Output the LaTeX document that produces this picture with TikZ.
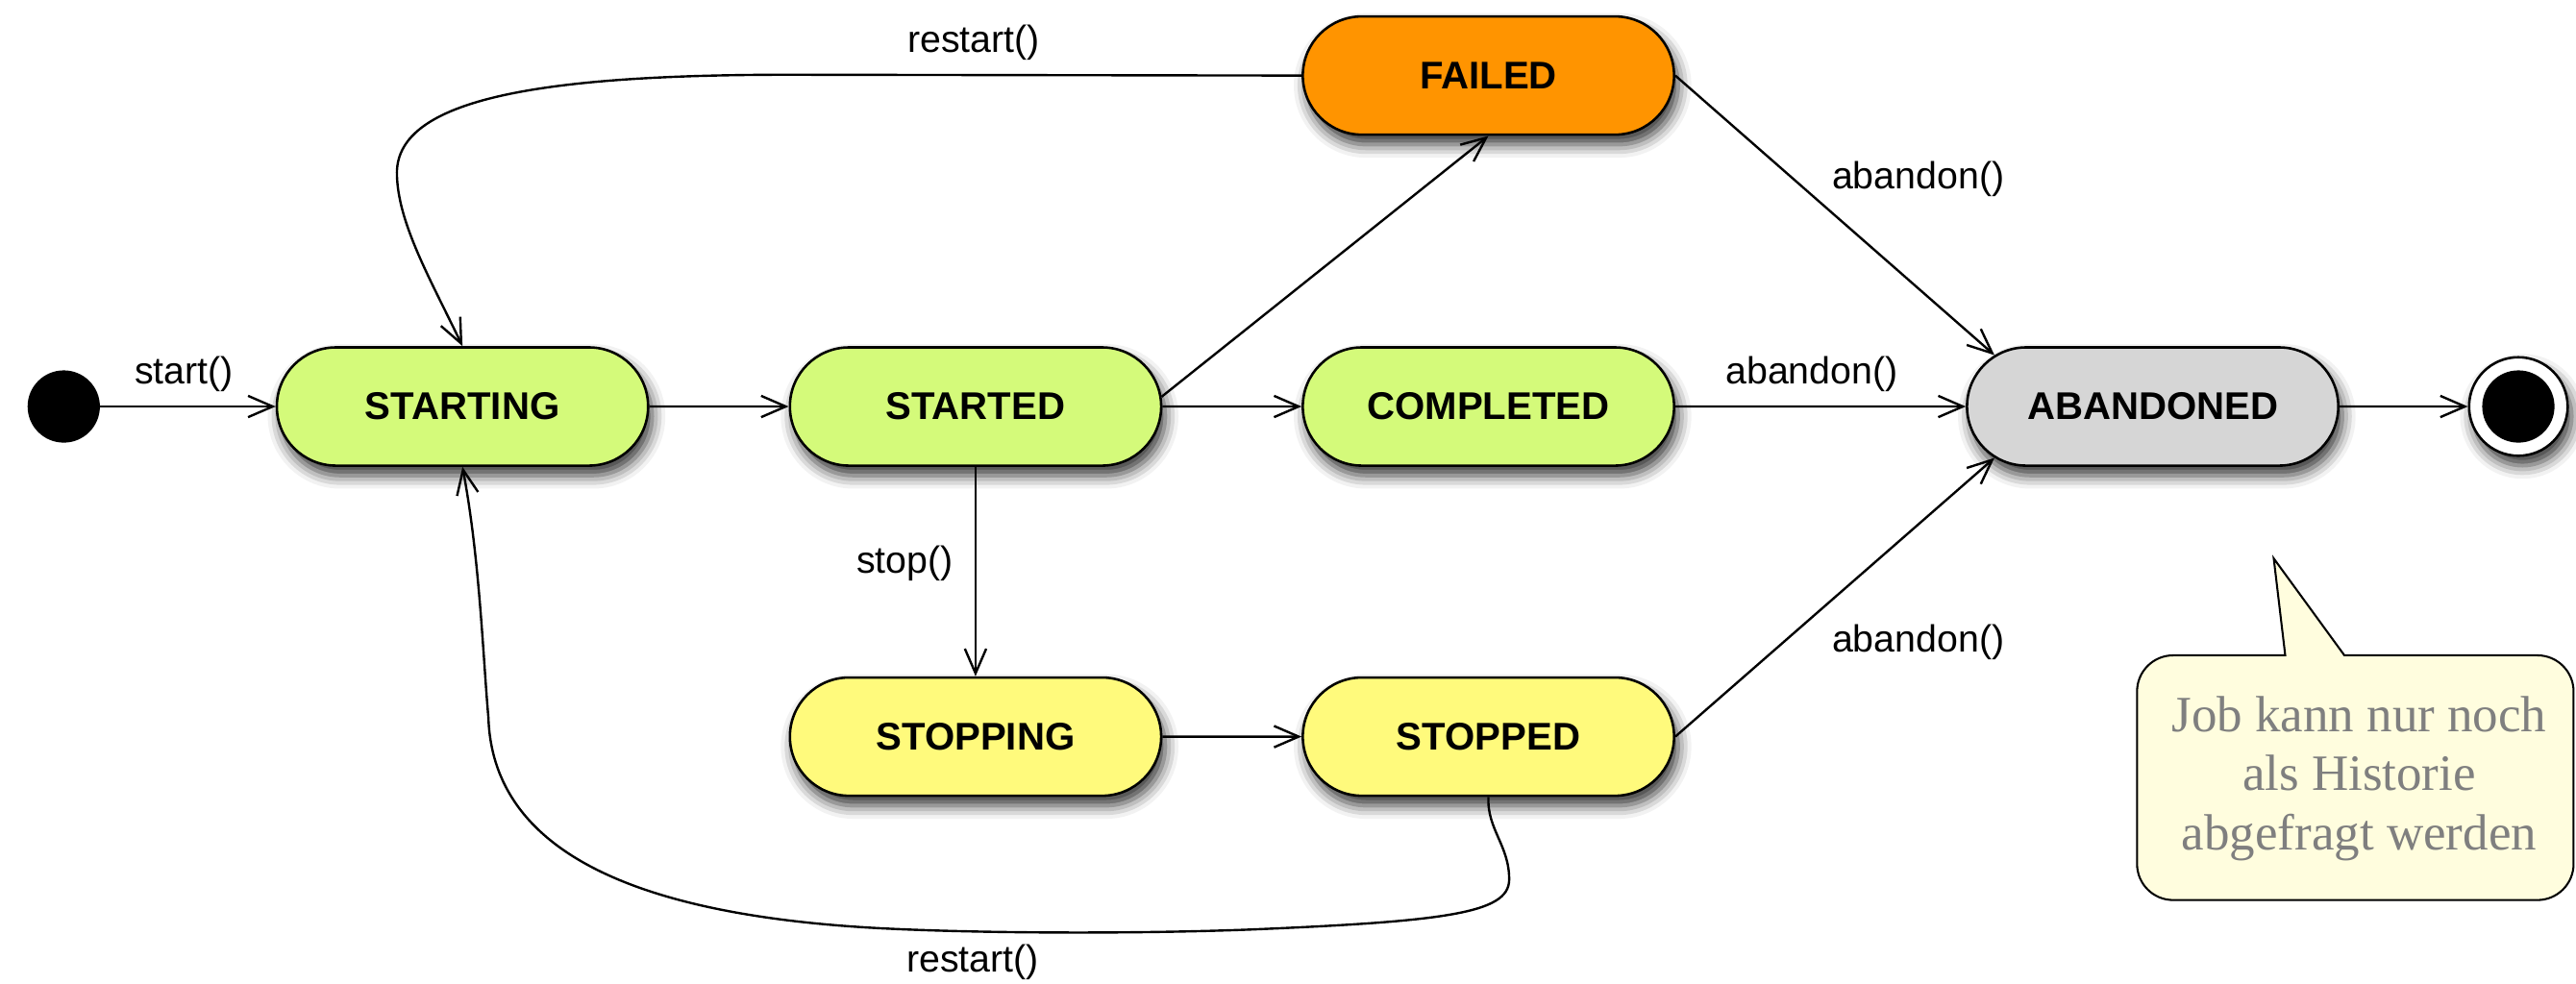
\documentclass[tikz,border=0pt]{standalone}
\usepackage{fontspec}
\setmainfont{Liberation Sans}
\newfontfamily\mySerif{Liberation Serif}
\usetikzlibrary{shapes.misc, arrows.meta, shadows.blur}
\definecolor{stGreen}{HTML}{D4FA7A}
\definecolor{stYellow}{HTML}{FFFA7C}
\definecolor{stOrange}{HTML}{FF9400}
\definecolor{stGray}{HTML}{D6D6D6}
\definecolor{noteFill}{HTML}{FFFDDE}
\definecolor{noteText}{HTML}{7F7F7F}
\newcommand\myStateFont{\bfseries\fontsize{23.5}{28}\selectfont}
\newcommand\myLabelFont{\fontsize{23}{27}\selectfont}
\newcommand\myNoteFont{\mySerif\fontsize{31}{36}\selectfont}
\begin{document}
\begin{tikzpicture}[x=1pt, y=-1pt,
  shade/.style={blur shadow={shadow xshift=2.5pt, shadow yshift=-6pt, shadow blur radius=8pt, shadow opacity=80}},
  state/.style={rounded rectangle, draw=black, line width=1.5pt,
    minimum width=226pt, minimum height=72pt, inner sep=0pt, font=\myStateFont, shade},
  lbl/.style={font=\myLabelFont, inner sep=0pt},
  arr/.style={line width=1.4pt, -{Straight Barb[length=15pt,width=13pt]}},
]
\useasboundingbox (0,0) rectangle (1568,599);

% states
\node[state, fill=stGreen]  (starting)  at (281.5,247.5) {STARTING};
\node[state, fill=stGreen]  (started)   at (593.8,247.5) {STARTED};
\node[state, fill=stGreen]  (completed) at (906,247.5)   {COMPLETED};
\node[state, fill=stOrange] (failed)    at (906,46)      {FAILED};
\node[state, fill=stGray]   (abandoned) at (1310.3,247.5){ABANDONED};
\node[state, fill=stYellow] (stopping)  at (593.8,448.5) {STOPPING};
\node[state, fill=stYellow] (stopped)   at (906,448.5)   {STOPPED};

% pseudo states
\node[circle, fill=black, minimum size=44pt, inner sep=0pt] (init) at (38.8,247.5) {};
\node[circle, draw=black, fill=white, line width=1.5pt, minimum size=60pt, inner sep=0pt, shade] (final) at (1532.9,247.5) {};
\node[circle, fill=black, minimum size=44pt, inner sep=0pt] (finalDot) at (final.center) {};

% labels
\node[lbl] (lStart)      at (112,228)      {start()};
\node[lbl] (lRestartTop) at (592.6,26)     {restart()};
\node[lbl] (lAbTop)      at (1167.6,109)   {abandon()};
\node[lbl] (lAbMid)      at (1102.8,227.7) {abandon()};
\node[lbl] (lStop)       at (550.8,343)    {stop()};
\node[lbl] (lAbBot)      at (1167.6,391)   {abandon()};
\node[lbl] (lRestartBot) at (592,586)      {restart()};

% connectors
\draw[arr] (init) -- (starting);
\draw[arr] (starting) -- (started);
\draw[arr] (started) -- (completed);
\draw[arr] (started.3) -- (failed.south);
\draw[arr] (started.south) -- (stopping.north);
\draw[arr] (stopping) -- (stopped);
\draw[arr] (failed.east) -- (abandoned.162);
\draw[arr] (completed) -- (abandoned);
\draw[arr] (stopped.east) -- (abandoned.198);
\draw[arr] (abandoned) -- (final);

\draw[arr] (failed.west) -- (480,45.5)
  .. controls (330,45.5) and (242,60) .. (241.6,105)
  .. controls (241.6,135) and (262,170) .. (starting.north);

\draw[arr] (stopped.south)
  .. controls (905,505) and (919,515) .. (918.6,536)
  .. controls (918,556) and (880,561) .. (760,566)
  .. controls (680,569) and (580,568) .. (526,564.6)
  .. controls (390,556) and (300,520) .. (297.3,437)
  .. controls (294,400) and (292,340) .. (starting.south);

% note
\draw[fill=noteFill, line width=1.2pt, line join=miter]
  (1391,399) -- (1384,340) -- (1427,399) -- (1544.5,399)
  arc[start angle=90, end angle=0, radius=22pt] -- (1566.5,526)
  arc[start angle=0, end angle=-90, radius=22pt] -- (1322.8,548)
  arc[start angle=270, end angle=180, radius=22pt] -- (1300.8,421)
  arc[start angle=180, end angle=90, radius=22pt] -- cycle;
\node[font=\myNoteFont, text=noteText, align=center, inner sep=0pt] (note) at (1436,474)
  {Job kann nur noch\\als Historie\\abgefragt werden};
\end{tikzpicture}
\end{document}
